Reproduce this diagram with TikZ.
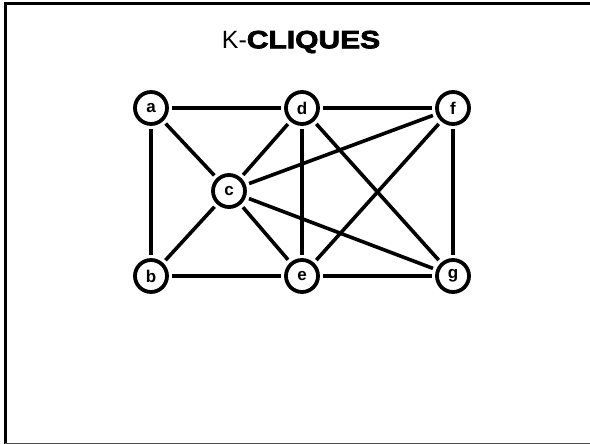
\documentclass[tikz,border=0pt]{standalone}
\usepackage{fontspec}
\setmainfont{Liberation Sans}
\newfontfamily\blackfont[BoldFeatures={FakeBold=3,FakeStretch=1.2}]{Liberation Sans}
\usepackage{tikz}

\begin{document}
\begin{tikzpicture}[x=1pt,y=-1pt,
  vertex/.style={circle,draw=black,fill=white,line width=3.8pt,minimum size=32pt,inner sep=0pt,font=\fontsize{17}{17}\selectfont\bfseries},
  edge/.style={draw=black,line width=3.6pt,shorten <=3.5pt,shorten >=3.5pt}]
\useasboundingbox (0,0) rectangle (590,444);
\draw[line width=3pt] (5,444) -- (5,4) -- (590,4);
\draw[line width=1pt,draw=black!70] (5,443) -- (590,443);
\node[font=\fontsize{25}{25}\selectfont] (title) at (301,42) {K-{\blackfont\bfseries\fontsize{25}{25}\selectfont CLIQUES}};
\node[vertex] (a) at (151,108) {a};
\node[vertex] (d) at (302,108) {d};
\node[vertex] (f) at (453,108) {f};
\node[vertex] (c) at (229,191) {c};
\node[vertex] (b) at (151,276) {b};
\node[vertex] (e) at (302,276) {e};
\node[vertex] (g) at (453,276) {g};
\draw[edge] (a) -- (d);
\draw[edge] (d) -- (f);
\draw[edge] (a) -- (b);
\draw[edge] (a) -- (c);
\draw[edge] (d) -- (c);
\draw[edge] (d) -- (e);
\draw[edge] (d) -- (g);
\draw[edge] (f) -- (c);
\draw[edge] (f) -- (e);
\draw[edge] (f) -- (g);
\draw[edge] (c) -- (b);
\draw[edge] (c) -- (e);
\draw[edge] (c) -- (g);
\draw[edge] (b) -- (e);
\draw[edge] (e) -- (g);
\end{tikzpicture}
\end{document}
